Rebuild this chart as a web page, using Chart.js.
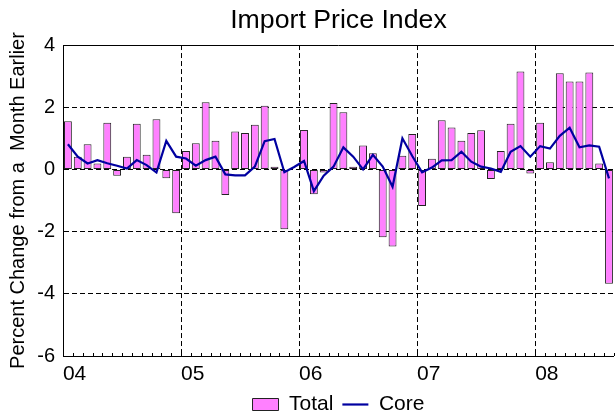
<!DOCTYPE html>
<html>
<head>
<meta charset="utf-8">
<script src="https://cdn.jsdelivr.net/npm/chart.js@4.4.0/dist/chart.umd.min.js"></script>
<style>
  html, body { margin: 0; padding: 0; background: #fff; }
</style>
</head>
<body>
<canvas id="chImport" width="615" height="415"></canvas>
<script>
// tick labels, one per January
var years = ['04', '05', '06', '07', '08'];

// monthly categories, Jan 2004 - Aug 2008
var months = [];
for (var y = 2004; y <= 2008; y++) {
  for (var m = 1; m <= 12; m++) {
    if (y === 2008 && m > 8) break;
    months.push(y + '-' + (m < 10 ? '0' + m : m));
  }
}

// percent change from a month earlier
var total = [
  1.55, 0.41, 0.81, 0.19, 1.50, -0.20, 0.41, 1.47, 0.47, 1.61, -0.28, -1.41,
  0.59, 0.84, 2.16, 0.92, -0.82, 1.22, 1.17, 1.44, 2.05, 0.09, -1.92, 0.00,
  1.27, -0.80, -0.10, 2.14, 1.84, 0.09, 0.77, 0.52, -2.18, -2.48, 0.44, 1.14,
  -1.18, 0.34, 1.58, 1.35, 0.92, 1.17, 1.26, -0.31, 0.59, 1.47, 3.15, -0.13,
  1.50, 0.23, 3.09, 2.83, 2.83, 3.12, 0.19, -3.68
];
var core = [
  0.81, 0.41, 0.19, 0.30, 0.20, 0.12, 0.03, 0.30, 0.14, -0.10, 0.92, 0.41,
  0.35, 0.12, 0.30, 0.41, -0.16, -0.19, -0.19, 0.09, 0.91, 0.98, -0.09, 0.08,
  0.27, -0.70, -0.20, 0.09, 0.71, 0.41, 0.00, 0.47, 0.09, -0.56, 1.00, 0.43,
  -0.09, 0.06, 0.29, 0.30, 0.57, 0.25, 0.09, 0.03, -0.08, 0.57, 0.75, 0.41,
  0.75, 0.67, 1.08, 1.34, 0.71, 0.77, 0.73, -0.29
];

var font = 'Liberation Sans, Arial, sans-serif';

/* ---------- top border line and small monthly ticks on the bottom axis ---------- */
var frame = {
  id: 'frame',
  afterDatasetsDraw: function (chart) {
    var ctx = chart.ctx;
    var a = chart.chartArea;
    var xs = chart.scales.x;
    var half = (xs.getPixelForValue(1) - xs.getPixelForValue(0)) / 2;
    ctx.save();
    ctx.strokeStyle = '#000';
    ctx.lineWidth = 1;
    ctx.beginPath();
    ctx.moveTo(a.left, Math.round(a.top) + 0.5);
    ctx.lineTo(a.right, Math.round(a.top) + 0.5);
    for (var i = 0; i <= months.length; i++) {
      var px = Math.round(xs.getPixelForValue(i) - half) + 0.5;
      ctx.moveTo(px, a.bottom);
      ctx.lineTo(px, a.bottom - 3);
    }
    ctx.stroke();
    ctx.restore();
  }
};

new Chart(document.getElementById('chImport'), {
  data: {
    labels: months,
    datasets: [
      {
        type: 'bar',
        label: 'Total',
        data: total,
        backgroundColor: '#ff80ff',
        borderColor: '#222222',
        borderWidth: 1,
        borderSkipped: false,
        barPercentage: 0.8,
        categoryPercentage: 1.0,
        pointStyle: 'rect',
        order: 1
      },
      {
        type: 'line',
        label: 'Core',
        data: core,
        borderColor: '#0000a0',
        backgroundColor: '#0000a0',
        borderWidth: 2.2,
        pointRadius: 0,
        tension: 0,
        pointStyle: 'line',
        order: 0
      }
    ]
  },
  plugins: [frame],
  options: {
    responsive: false,
    animation: false,
    layout: { padding: { left: 0, right: 0, top: 0, bottom: -10 } },
    plugins: {
      tooltip: { enabled: false },
      title: {
        display: true,
        fullSize: false,
        text: 'Import Price Index',
        color: '#000',
        font: { family: font, size: 26.7, weight: 'normal' },
        padding: { top: 4.75, bottom: 8.25 }
      },
      legend: {
        position: 'bottom',
        fullSize: false,
        labels: {
          color: '#000',
          font: { family: font, size: 21 },
          usePointStyle: true,
          pointStyleWidth: 26,
          boxHeight: 12,
          padding: 9,
          sort: function (a, b) { return a.datasetIndex - b.datasetIndex; }
        }
      }
    },
    scales: {
      x: {
        offset: true,
        grid: {
          offset: true,
          drawTicks: false,
          color: function (c) {
            return (c.index % 12 === 0 && c.index > 0) ? '#000' : 'rgba(0,0,0,0)';
          }
        },
        border: { display: true, color: '#000', width: 1, dash: [5, 3] },
        ticks: {
          autoSkip: false,
          maxRotation: 0,
          align: 'start',
          labelOffset: -5,
          padding: 6,
          color: '#000',
          font: { family: font, size: 21 },
          callback: function (v, i) {
            return i % 12 === 0 ? years[i / 12] : '';
          }
        },
        afterFit: function (s) { s.height = 29; }
      },
      y: {
        min: -6,
        max: 4,
        grid: {
          drawTicks: false,
          color: function (c) {
            return c.tick.value === 4 ? 'rgba(0,0,0,0)' : '#000';
          }
        },
        border: { display: true, color: '#000', width: 1, dash: [5, 3] },
        ticks: {
          stepSize: 2,
          padding: 8,
          color: '#000',
          font: { family: font, size: 20 }
        },
        title: {
          display: true,
          text: 'Percent Change from a  Month Earlier',
          color: '#000',
          font: { family: font, size: 20 },
          padding: { top: 6, bottom: 0 }
        },
        afterFit: function (s) { s.width = 63; }
      }
    }
  }
});
</script>
</body>
</html>
